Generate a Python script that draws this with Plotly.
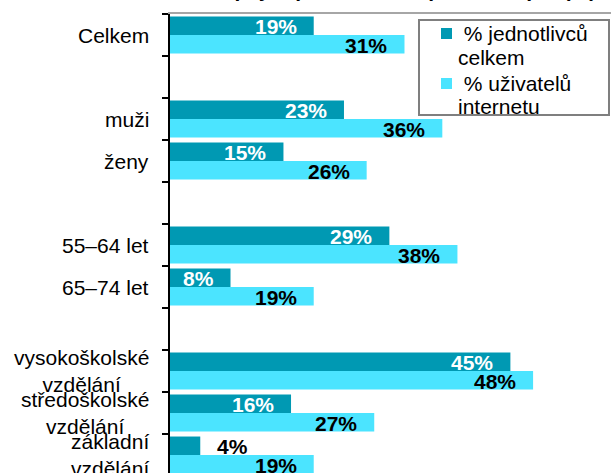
import plotly.graph_objects as go

categories = ["Celkem", " ", "muži", "ženy", "  ", "55–64 let", "65–74 let", "   ",
              "vysokoškolské<br>vzdělání", "středoškolské<br>vzdělání", "základní<br>vzdělání"]
pct_total = [19, None, 23, 15, None, 29, 8, None, 45, 16, 4]
pct_internet = [31, None, 36, 26, None, 38, 19, None, 48, 27, 19]
legend_lines = [["\u00a0% jednotlivců", "celkem"], ["\u00a0% uživatelů", "internetu"]]
title_text = "Jednotlivci nakupující přes internet podle skupin (%)"

DARK = "#0099B3"
LIGHT = "#4BE4FF"
FONT = "Liberation Sans, Arial, sans-serif"

W, H = 611, 473
ML, MT = 170, 14
plot_w = W - ML
plot_h = H - MT
cat_px = 42.0
n_vis = plot_h / cat_px
BARGAP = 0.12
bar_px = cat_px * (1 - BARGAP) / 2
x_max = 58.3


def px_x(px):
    return (px - ML) / plot_w


def px_y(py):
    return 1 - (py - MT) / plot_h


fig = go.Figure()
fig.add_trace(go.Bar(y=categories, x=pct_total, orientation="h", name=" ".join(legend_lines[0]),
                     marker=dict(color=DARK, line=dict(width=0)), hoverinfo="skip", showlegend=False))
fig.add_trace(go.Bar(y=categories, x=pct_internet, orientation="h", name=" ".join(legend_lines[1]),
                     marker=dict(color=LIGHT, line=dict(width=0)), hoverinfo="skip", showlegend=False))

annotations = []
# value labels
for vals, sign, col in [(pct_total, -1, "white"), (pct_internet, 1, "black")]:
    for c, v in zip(categories, vals):
        if v is None:
            continue
        inside = v >= 6
        annotations.append(dict(
            x=v, y=c, xref="x", yref="y", text=f"{v}%", showarrow=False,
            xanchor="right" if inside else "left", xshift=-15 if inside else 15,
            yanchor="middle", yshift=-sign * bar_px / 2 - 1,
            font=dict(family=FONT, size=21, color=col if inside else "black", weight="bold"),
        ))
# category labels (centered multi-line)
for c in categories:
    if not c.strip():
        continue
    annotations.append(dict(
        x=0, y=c, xref="paper", yref="y", text=c, showarrow=False,
        xanchor="right", xshift=-19, align="center", yanchor="middle",
        font=dict(family=FONT, size=21, color="black"),
    ))
# clipped title
annotations.append(dict(
    x=1, y=1, xref="paper", yref="paper", text=f"<b>{title_text}</b>", showarrow=False,
    xanchor="right", xshift=-13, yanchor="bottom", yshift=11,
    font=dict(family=FONT, size=21, color="black"),
))

# legend (box, swatches, text)
shapes = [dict(type="rect", xref="paper", yref="paper",
               x0=px_x(419), x1=px_x(609), y0=px_y(20), y1=px_y(115),
               line=dict(color="#7f7f7f", width=2), fillcolor="white", layer="above")]
legend_colors = [DARK, LIGHT]
row_top = [33, 83]
for i, (lines, col) in enumerate(zip(legend_lines, legend_colors)):
    yc = row_top[i]
    shapes.append(dict(type="rect", xref="paper", yref="paper",
                       x0=px_x(441), x1=px_x(452), y0=px_y(yc - 5), y1=px_y(yc + 6),
                       line=dict(width=0), fillcolor=col, layer="above"))
    for j, t in enumerate(lines):
        annotations.append(dict(
            x=px_x(456), y=px_y(yc + 24 * j), xref="paper", yref="paper", text=t,
            showarrow=False, xanchor="left", yanchor="middle",
            font=dict(family=FONT, size=21, color="black"),
        ))

fig.update_layout(
    width=W, height=H,
    margin=dict(l=ML, r=0, t=MT, b=0, pad=0),
    paper_bgcolor="white", plot_bgcolor="white",
    barmode="group", bargap=BARGAP, bargroupgap=0,
    showlegend=False,
    xaxis=dict(range=[0, x_max], side="top", showline=True, linecolor="#a6a6a6", linewidth=2,
               showticklabels=False, ticks="", showgrid=False, zeroline=False, fixedrange=True),
    yaxis=dict(type="category", categoryorder="array", categoryarray=categories,
               range=[n_vis - 0.5, -0.5], showline=True, linecolor="black", linewidth=2,
               ticks="outside", ticklen=6, tickwidth=1.5, tickcolor="black",
               tickson="boundaries", showticklabels=False, showgrid=False, zeroline=False),
    annotations=annotations,
    shapes=shapes,
)

fig.write_html("out.html", config={"displayModeBar": False},
               post_script="document.body.style.margin='0';document.body.style.overflow='hidden';")
